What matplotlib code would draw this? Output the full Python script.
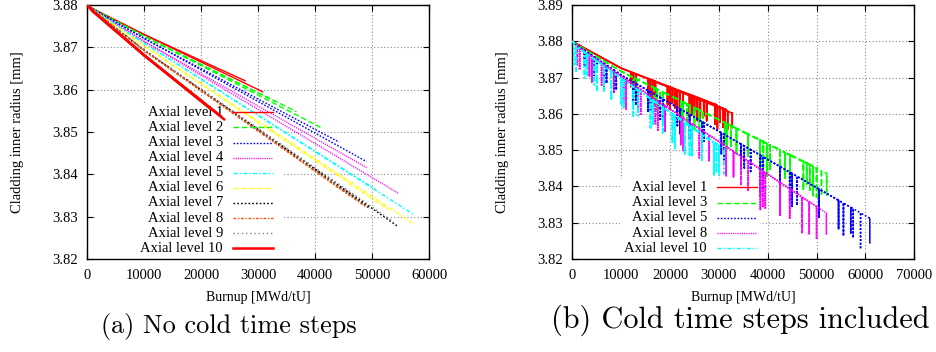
import numpy as np
import matplotlib
matplotlib.use("Agg")
import matplotlib.pyplot as plt
from matplotlib.patches import Rectangle
from matplotlib.lines import Line2D

# ---------------- data: panel (a) no cold time steps ----------------
start_radius = 3.88
a_levels = ["Axial level 1", "Axial level 2", "Axial level 3", "Axial level 4",
            "Axial level 5", "Axial level 6", "Axial level 7", "Axial level 8",
            "Axial level 9", "Axial level 10"]
a_r1k = [3.8791, 3.8791, 3.8790, 3.8789, 3.8788, 3.8788, 3.8787, 3.8787, 3.8787, 3.8785]
a_r10k = [3.8730, 3.8726, 3.8721, 3.8714, 3.8710, 3.8703, 3.8693, 3.8692, 3.8694, 3.8681]
a_end_burnup = [[27700, 30770], [33000, 36700, 40900], [44200, 49000],
                [49000, 54600], [50500, 57300], [53000, 57400],
                [49500, 54600], [46000, 49000], [48000, 53500],
                [21500, 23000, 24000]]
a_end_radius = [[3.8621, 3.8595], [3.8572, 3.8548, 3.8511], [3.8476, 3.8430],
                [3.8416, 3.8355], [3.8365, 3.8305], [3.8315, 3.8282],
                [3.8320, 3.8276], [3.8350, 3.8322], [3.8335, 3.8290],
                [3.8556, 3.8542, 3.8530]]
a_xticks = [0, 10000, 20000, 30000, 40000, 50000, 60000]
a_yticks = [3.82, 3.83, 3.84, 3.85, 3.86, 3.87, 3.88]

# ---------------- data: panel (b) cold time steps included ----------------
b_levels = ["Axial level 1", "Axial level 3", "Axial level 5", "Axial level 8", "Axial level 10"]
b_r1k = [3.8792, 3.8790, 3.8788, 3.8786, 3.8784]
b_r10k = [3.8726, 3.8717, 3.8707, 3.8703, 3.8698]
b_end_burnup = [[29600, 31500, 32750], [47000, 50000, 52070], [55000, 57500, 60930],
                [49000, 50500, 52070], [29000, 30200, 31300]]
b_end_radius = [[3.8625, 3.8612, 3.8602], [3.8470, 3.8452, 3.8436], [3.8358, 3.8338, 3.8312],
                [3.8352, 3.8340, 3.8326], [3.8518, 3.8510, 3.8502]]
b_dip_burnup = [
    [12000, 12500, 13000, 15500, 16000, 16500, 17000, 19500, 20000, 20500, 21000,
     21500, 22000, 22700, 24000, 24500, 25000, 25600, 26200, 26900, 27500, 29200,
     29700, 30200, 30800, 31300, 31800, 32750],
    [12500, 13200, 16800, 17300, 18000, 18600, 22200, 22700, 23500, 24100, 25000,
     26000, 26800, 31200, 31600, 32500, 33600, 36000, 38400, 39100, 39800, 40500,
     42500, 43500, 44600, 47300, 48000, 48600, 49300, 50000, 51000, 52070],
    [2500, 3000, 4500, 5000, 6500, 7000, 8500, 9000, 12500, 13000, 15500, 16000,
     18000, 18500, 21500, 22000, 24000, 26500, 27000, 30500, 31000, 34500, 35200,
     36500, 38500, 39000, 42500, 44500, 45000, 46000, 50500, 54500, 55500, 57000,
     57500, 59000, 60900],
    [1000, 1500, 3500, 4000, 6000, 6500, 8500, 10500, 11000, 13500, 14000, 17000,
     17500, 19000, 22200, 22700, 24500, 26000, 28000, 31500, 33000, 34500, 36000,
     38500, 39000, 39500, 42500, 44500, 47000, 48500, 50000, 52000],
    [300, 800, 2500, 3000, 4500, 5000, 6500, 8000, 10000, 10500, 12500, 13500,
     16000, 16500, 18500, 20500, 21000, 23000, 24000, 24500, 26500, 29000, 29500,
     30000, 31000],
]
b_dip_depth = [
    [0.004, 0.005, 0.004, 0.005, 0.006, 0.005, 0.004, 0.005, 0.006, 0.004, 0.005,
     0.006, 0.005, 0.006, 0.006, 0.005, 0.004, 0.006, 0.005, 0.004, 0.005, 0.005,
     0.006, 0.004, 0.005, 0.006, 0.005, 0.004],
    [0.004, 0.005, 0.005, 0.006, 0.005, 0.006, 0.006, 0.005, 0.006, 0.005, 0.006,
     0.005, 0.006, 0.006, 0.007, 0.006, 0.007, 0.006, 0.008, 0.007, 0.009, 0.007,
     0.006, 0.007, 0.007, 0.008, 0.006, 0.007, 0.008, 0.008, 0.007, 0.006],
    [0.004, 0.005, 0.005, 0.004, 0.004, 0.005, 0.006, 0.005, 0.005, 0.006, 0.006,
     0.005, 0.006, 0.006, 0.005, 0.007, 0.007, 0.006, 0.005, 0.006, 0.007, 0.007,
     0.006, 0.006, 0.011, 0.009, 0.007, 0.008, 0.009, 0.008, 0.008, 0.008, 0.009,
     0.007, 0.008, 0.010, 0.007],
    [0.005, 0.006, 0.006, 0.007, 0.006, 0.007, 0.006, 0.007, 0.008, 0.006, 0.007,
     0.007, 0.008, 0.007, 0.008, 0.009, 0.007, 0.008, 0.007, 0.008, 0.007, 0.008,
     0.008, 0.011, 0.010, 0.010, 0.009, 0.008, 0.010, 0.009, 0.009, 0.006],
    [0.006, 0.007, 0.007, 0.006, 0.007, 0.008, 0.007, 0.008, 0.007, 0.008, 0.008,
     0.007, 0.008, 0.007, 0.007, 0.008, 0.009, 0.009, 0.008, 0.008, 0.007, 0.009,
     0.008, 0.008, 0.007],
]
b_xticks = [0, 10000, 20000, 30000, 40000, 50000, 60000, 70000]
b_yticks = [3.82, 3.83, 3.84, 3.85, 3.86, 3.87, 3.88, 3.89]

# ---------------- styles (gnuplot-like) ----------------
gp_colors = ["#ff0000", "#00ff00", "#0000ff", "#ff00ff", "#00ffff",
             "#ffff00", "#000000", "#ff4d00", "#808080", "#ff0000"]
gp_dashes = [None, (4, 2), (1.2, 1.2), (0.8, 0.8), (3, 1.5, 1, 1.5),
             (2.5, 1.2, 0.8, 1.2), (1.2, 1.5), (2, 1.2, 1, 1.2), (1, 2), None]
gp_widths = [1.0, 1.0, 1.0, 1.0, 1.0, 1.0, 1.0, 1.0, 1.0, 1.8]

SERIF = ["Liberation Serif", "DejaVu Serif"]
plt.rcParams["font.family"] = SERIF
plt.rcParams["font.size"] = 10.5

W, H = 937, 352
fig = plt.figure(figsize=(W / 100, H / 100), dpi=100)


def fx(px):
    return px / W


def fy(py):
    return 1 - py / H


ax_a = fig.add_axes([fx(87.3), fy(259), 342 / W, 254 / H])
ax_b = fig.add_axes([fx(572.3), fy(259), 342 / W, 254 / H])


def style_axes(ax, xticks, yticks):
    ax.set_xlim(xticks[0], xticks[-1])
    ax.set_ylim(yticks[0], yticks[-1])
    ax.set_xticks(xticks)
    ax.set_xticklabels([str(v) for v in xticks])
    ax.set_yticks(yticks)
    ax.set_yticklabels(["%.2f" % v for v in yticks])
    ax.tick_params(direction="in", top=True, right=True, length=4, width=0.8,
                   labelsize=10.5, pad=7)
    ax.set_axisbelow(True)
    ax.grid(True, color="#888888", linestyle=(0, (1, 2)), linewidth=0.8)
    for s in ax.spines.values():
        s.set_linewidth(1.0)
        s.set_color("black")
    ax.set_xlabel("Burnup [MWd/tU]", fontsize=10)
    ax.set_ylabel("Cladding inner radius [mm]", fontsize=10.5)
    ax.xaxis.set_label_coords(0.5, -0.125)
    ax.yaxis.set_label_coords(-0.186, 0.5)


style_axes(ax_a, a_xticks, a_yticks)
style_axes(ax_b, b_xticks, b_yticks)


def line_kw(i, lw=None):
    kw = dict(color=gp_colors[i], linewidth=gp_widths[i] if lw is None else lw, zorder=3)
    if gp_dashes[i] is None:
        kw["linestyle"] = "-"
    else:
        kw["linestyle"] = (0, gp_dashes[i])
    return kw


def legend_block(ax, labels, style_idx, x_text, x0, x1, y_first, y_step, rect):
    ax.add_patch(Rectangle((rect[0], rect[1]), rect[2], rect[3], transform=ax.transAxes,
                           facecolor="white", edgecolor="none", zorder=1))
    for k, lab in enumerate(labels):
        y = y_first - k * y_step
        ax.text(x_text, y, lab, transform=ax.transAxes, ha="right", va="center",
                fontsize=10.5, zorder=2)
        ax.add_line(Line2D([x0, x1], [y, y], transform=ax.transAxes, **line_kw(style_idx[k])))


# ---- panel (a) ----
for i in range(len(a_levels)):
    for eb, er in zip(a_end_burnup[i], a_end_radius[i]):
        ax_a.plot([0, 1000, 10000, eb], [start_radius, a_r1k[i], a_r10k[i], er], **line_kw(i))

legend_block(ax_a, a_levels, list(range(10)), 0.397, 0.426, 0.543,
             (259 - 112.3) / 254, 15.1 / 254, (0.0225, 0.0, 0.547, 0.614))

# ---- panel (b) ----
for i in range(len(b_levels)):
    for eb, er in zip(b_end_burnup[i], b_end_radius[i]):
        nodes_b = [0, 1000, 10000, eb]
        nodes_r = [start_radius, b_r1k[i], b_r10k[i], er]
        xs, ys = [], []
        events = sorted([(v, None) for v in nodes_b] +
                        [(d, dep) for d, dep in zip(b_dip_burnup[i], b_dip_depth[i]) if d <= eb],
                        key=lambda t: t[0])
        for bu, dep in events:
            base = float(np.interp(bu, nodes_b, nodes_r))
            xs.append(bu)
            ys.append(base)
            if dep is not None:
                xs += [bu, bu]
                ys += [base - dep, base]
        ax_b.plot(xs, ys, **line_kw(i, 1.1))

legend_block(ax_b, b_levels, [0, 1, 2, 3, 4], 0.394, 0.423, 0.540,
             (259 - 187.3) / 254, 15.25 / 254, (0.139, 0.0, 0.41, 0.315))

# ---- captions ----
fig.text(fx(229), fy(326), "(a) No cold time steps", family="cmr10", fontsize=18.9,
         ha="center", va="center")
fig.text(fx(740), fy(320), "(b) Cold time steps included", family="cmr10", fontsize=21.8,
         ha="center", va="center")

fig.savefig("out.png", dpi=100)
